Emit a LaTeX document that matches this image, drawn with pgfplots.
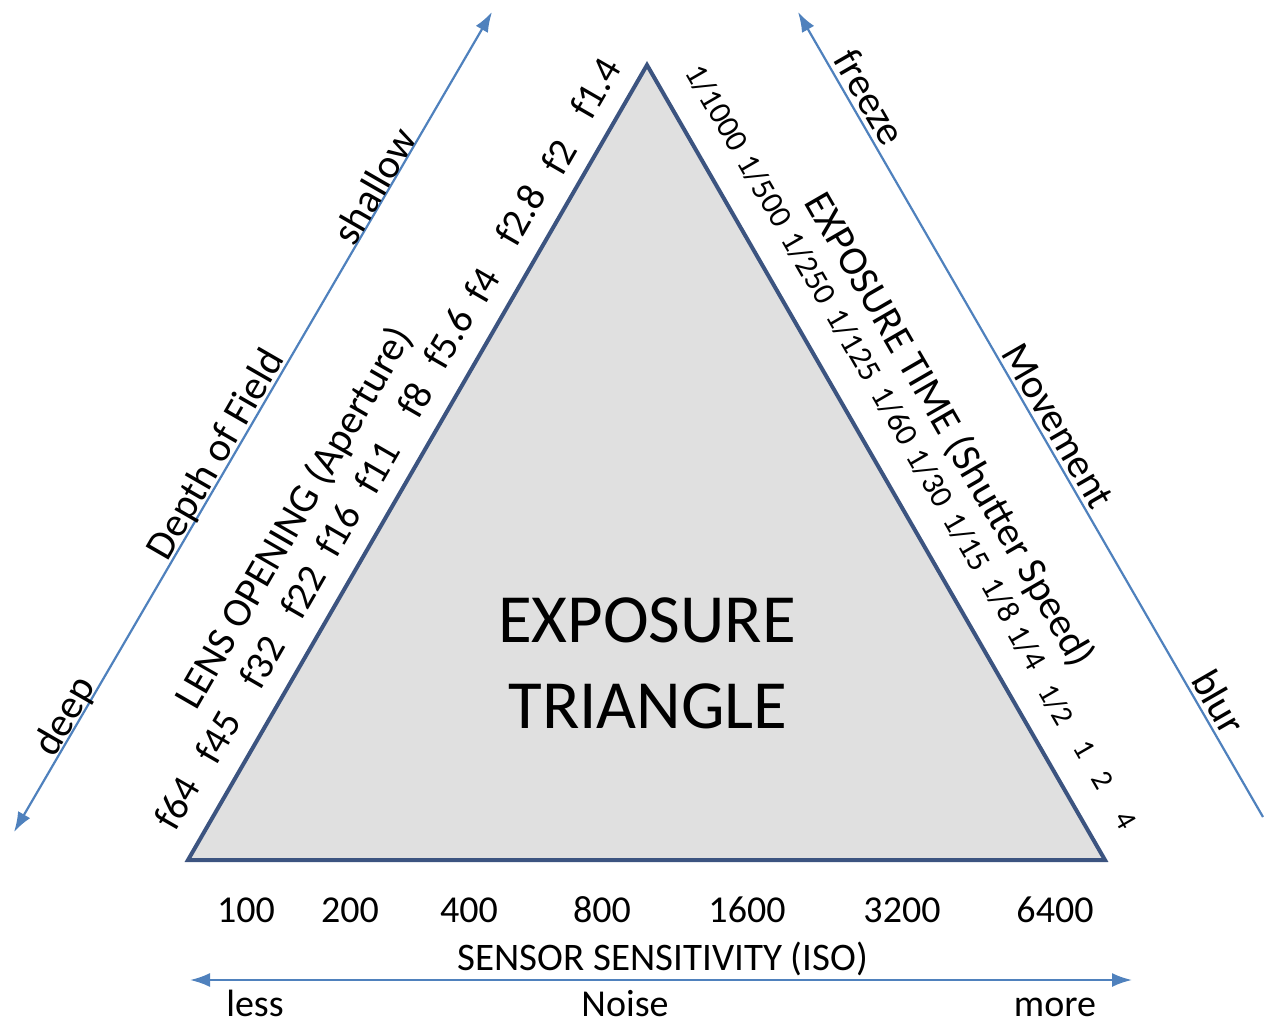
\documentclass[border=0pt]{standalone}
\usepackage{pgfplots}
\pgfplotsset{compat=1.18}
\usepackage{fontspec}
\setmainfont{Carlito}
\usetikzlibrary{arrows.meta}
\definecolor{edgeblue}{RGB}{60,84,128}
\definecolor{arrblue}{RGB}{79,129,189}
\definecolor{trifill}{RGB}{224,224,224}
\newcommand{\fs}[1]{\fontsize{#1}{#1}\selectfont}
\begin{document}
\begin{tikzpicture}
\begin{axis}[
  width=632.5pt, height=510pt, scale only axis,
  xmin=0, xmax=1265, ymin=0, ymax=1020, y dir=reverse,
  hide axis, clip=false,
]
% invisible frame for the page size
\addplot[draw=none, mark=none] coordinates {(0,0) (1265,1020)};
% triangle
\addplot[draw=edgeblue, line width=2pt, fill=trifill, mark=none, line join=miter]
  coordinates {(647,65) (1105,860) (188,860)} -- cycle;
% arrows
\addplot[arrblue, line width=1.1pt, mark=none, {Latex[length=10pt,width=7pt]}-{Latex[length=10pt,width=7pt]}]
  coordinates {(14,832) (492,12)};
\addplot[arrblue, line width=1.1pt, mark=none, {Latex[length=10pt,width=7pt]}-]
  coordinates {(798,12) (1263,817)};
\addplot[arrblue, line width=1.1pt, mark=none, {Latex[length=10pt,width=7pt]}-{Latex[length=10pt,width=7pt]}]
  coordinates {(190,980) (1132,980)};

% centre title
\node[anchor=base, font=\fs{34.5}] at (axis cs:647,642) {EXPOSURE};
\node[anchor=base, font=\fs{34.5}] at (axis cs:648,728) {TRIANGLE};

% ISO numbers
\node[anchor=base, font=\fs{19}] at (axis cs:246,922) {100};
\node[anchor=base, font=\fs{19}] at (axis cs:350,922) {200};
\node[anchor=base, font=\fs{19}] at (axis cs:469,922) {400};
\node[anchor=base, font=\fs{19}] at (axis cs:602,922) {800};
\node[anchor=base, font=\fs{19}] at (axis cs:747,922) {1600};
\node[anchor=base, font=\fs{19}] at (axis cs:902,922) {3200};
\node[anchor=base, font=\fs{19}] at (axis cs:1055,922) {6400};
\node[anchor=base, font=\fs{19.5}] at (axis cs:663,970) {SENSOR SENSITIVITY (ISO)};
\node[anchor=base, font=\fs{19}] at (axis cs:255,1016) {less};
\node[anchor=base, font=\fs{19}] at (axis cs:625,1016) {Noise};
\node[anchor=base, font=\fs{19}] at (axis cs:1055,1016) {more};

% aperture side
\node[rotate=60, font=\fs{20}] at (axis cs:177,803) {f64};
\node[rotate=60, font=\fs{20}] at (axis cs:218,737) {f45};
\node[rotate=60, font=\fs{20}] at (axis cs:262,662) {f32};
\node[rotate=60, font=\fs{20}] at (axis cs:303,592) {f22};
\node[rotate=60, font=\fs{20}] at (axis cs:338,530) {f16};
\node[rotate=60, font=\fs{20}] at (axis cs:377,467) {f11};
\node[rotate=60, font=\fs{20}] at (axis cs:415,400) {f8};
\node[rotate=60, font=\fs{20}] at (axis cs:448,338) {f5.6};
\node[rotate=60, font=\fs{20}] at (axis cs:482,285) {f4};
\node[rotate=60, font=\fs{20}] at (axis cs:520,215) {f2.8};
\node[rotate=60, font=\fs{20}] at (axis cs:559,157) {f2};
\node[rotate=60, font=\fs{20}] at (axis cs:595,88) {f1.4};
\node[rotate=60, font=\fs{20.5}] at (axis cs:295,518) {LENS OPENING (Aperture)};
\node[rotate=60, font=\fs{20.5}] at (axis cs:217,455) {Depth of Field};
\node[rotate=60, font=\fs{20.5}] at (axis cs:374,186) {shallow};
\node[rotate=60, font=\fs{20.5}] at (axis cs:66,717) {deep};

% shutter side
\node[rotate=-60, font=\fs{16}] at (axis cs:717,108) {1/1000};
\node[rotate=-60, font=\fs{16}] at (axis cs:765,191) {1/500};
\node[rotate=-60, font=\fs{16}] at (axis cs:809,268) {1/250};
\node[rotate=-60, font=\fs{16}] at (axis cs:854,345) {1/125};
\node[rotate=-60, font=\fs{16}] at (axis cs:895,416) {1/60};
\node[rotate=-60, font=\fs{16}] at (axis cs:930,478) {1/30};
\node[rotate=-60, font=\fs{16}] at (axis cs:967,542) {1/15};
\node[rotate=-60, font=\fs{16}] at (axis cs:1001,600) {1/8};
\node[rotate=-60, font=\fs{16}] at (axis cs:1027,648) {1/4};
\node[rotate=-60, font=\fs{15}] at (axis cs:1056,705) {1/2};
\node[rotate=-60, font=\fs{15}] at (axis cs:1085,749) {1};
\node[rotate=-60, font=\fs{15}] at (axis cs:1103,780) {2};
\node[rotate=-60, font=\fs{15}] at (axis cs:1126,820) {4};
\node[rotate=-60, font=\fs{20.5}] at (axis cs:949,430) {EXPOSURE TIME (Shutter Speed)};
\node[rotate=-60, font=\fs{20.5}] at (axis cs:1058,426) {Movement};
\node[rotate=-60, font=\fs{20.5}] at (axis cs:870,97) {freeze};
\node[rotate=-60, font=\fs{20.5}] at (axis cs:1219,702) {blur};
\end{axis}
\end{tikzpicture}
\end{document}
